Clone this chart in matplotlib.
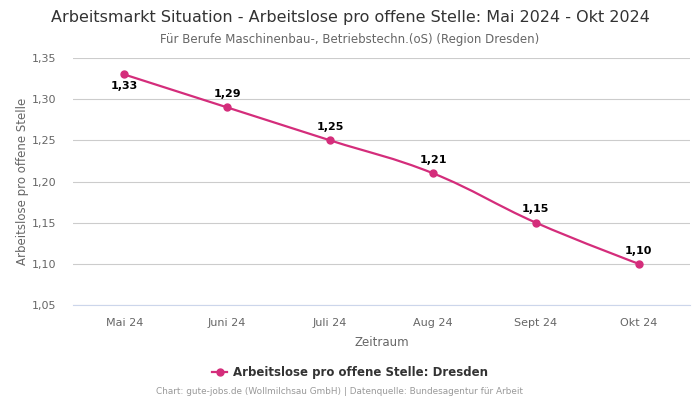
import matplotlib.pyplot as plt
from matplotlib.path import Path
import matplotlib.patches as mpatches
import matplotlib.lines as mlines
import numpy as np

months = ["Mai 24", "Juni 24", "Juli 24", "Aug 24", "Sept 24", "Okt 24"]
values = [1.33, 1.29, 1.25, 1.21, 1.15, 1.10]
yticks = [1.05, 1.10, 1.15, 1.20, 1.25, 1.30, 1.35]

line_color = "#d42d7b"


def spline_path(xs, ys, smoothing=1.5, denom=2.5):
    # highcharts-like spline: bezier control points per point
    verts = [(xs[0], ys[0])]
    codes = [Path.MOVETO]
    n = len(xs)
    conts = []
    for i in range(n):
        if i == 0 or i == n - 1:
            conts.append(((xs[i], ys[i]), (xs[i], ys[i])))
            continue
        x, y = xs[i], ys[i]
        px, py = xs[i - 1], ys[i - 1]
        nx_, ny = xs[i + 1], ys[i + 1]
        lx = (smoothing * x + px) / denom
        ly = (smoothing * y + py) / denom
        rx = (smoothing * x + nx_) / denom
        ry = (smoothing * y + ny) / denom
        corr = ((ry - ly) * (rx - x)) / (rx - lx) + y - ry
        ly += corr
        ry += corr
        if ly > py and ly > y:
            ly = max(py, y)
            ry = 2 * y - ly
        elif ly < py and ly < y:
            ly = min(py, y)
            ry = 2 * y - ly
        if ry > ny and ry > y:
            ry = max(ny, y)
            ly = 2 * y - ry
        elif ry < ny and ry < y:
            ry = min(ny, y)
            ly = 2 * y - ry
        conts.append(((lx, ly), (rx, ry)))
    for i in range(1, n):
        verts += [conts[i - 1][1], conts[i][0], (xs[i], ys[i])]
        codes += [Path.CURVE4] * 3
    return Path(verts, codes)


fig = plt.figure(figsize=(7, 4), dpi=100)
ax = fig.add_axes([0.104, 0.2375, 0.882, 0.6175])

x = np.arange(len(months))
ax.add_patch(mpatches.PathPatch(spline_path(list(x), values), fill=False,
                                edgecolor=line_color, lw=1.6, zorder=3))
ax.plot(x, values, "o", color=line_color, ms=5, zorder=4)

for i, v in enumerate(values):
    off = -5 if i == 0 else 6
    ax.annotate(f"{v:.2f}".replace(".", ","), (i, v), xytext=(0, off),
                textcoords="offset points", ha="center",
                va="bottom" if off > 0 else "top",
                fontsize=8, fontweight="bold", color="black")

ax.set_xlim(-0.5, len(months) - 0.5)
ax.set_ylim(1.05, 1.35)
ax.set_xticks(x)
ax.set_xticklabels(months)
ax.set_yticks(yticks)
ax.set_yticklabels([f"{t:.2f}".replace(".", ",") for t in yticks])
ax.tick_params(length=0, labelsize=8, colors="#666666")
ax.tick_params(axis="x", pad=9)
ax.tick_params(axis="y", pad=12)
ax.grid(axis="y", color="#cccccc", lw=0.8)
ax.set_axisbelow(True)
for s in ["top", "right", "left"]:
    ax.spines[s].set_visible(False)
ax.spines["bottom"].set_color("#ccd6eb")
ax.spines["bottom"].set_linewidth(0.8)

ax.set_xlabel("Zeitraum", fontsize=8.5, color="#666666", labelpad=6)
ax.set_ylabel("Arbeitslose pro offene Stelle", fontsize=8.5, color="#666666", labelpad=2)

fig.text(0.5, 0.957, "Arbeitsmarkt Situation - Arbeitslose pro offene Stelle: Mai 2024 - Okt 2024",
         ha="center", va="center", fontsize=11.5, color="#333333")
fig.text(0.5, 0.902, "Für Berufe Maschinenbau-, Betriebstechn.(oS) (Region Dresden)",
         ha="center", va="center", fontsize=8.5, color="#666666")

handle = mlines.Line2D([], [], color=line_color, marker="o", ms=5, lw=1.6)
fig.legend(handles=[handle], labels=["Arbeitslose pro offene Stelle: Dresden"],
           loc="center", bbox_to_anchor=(0.5, 0.068), frameon=False,
           prop={"size": 8.5, "weight": "bold"}, labelcolor="#333333",
           handlelength=1.2, handletextpad=0.5)

fig.text(0.485, 0.02, "Chart: gute-jobs.de (Wollmilchsau GmbH) | Datenquelle: Bundesagentur für Arbeit",
         ha="center", va="center", fontsize=6.4, color="#999999")

fig.savefig("out.png", dpi=100)
